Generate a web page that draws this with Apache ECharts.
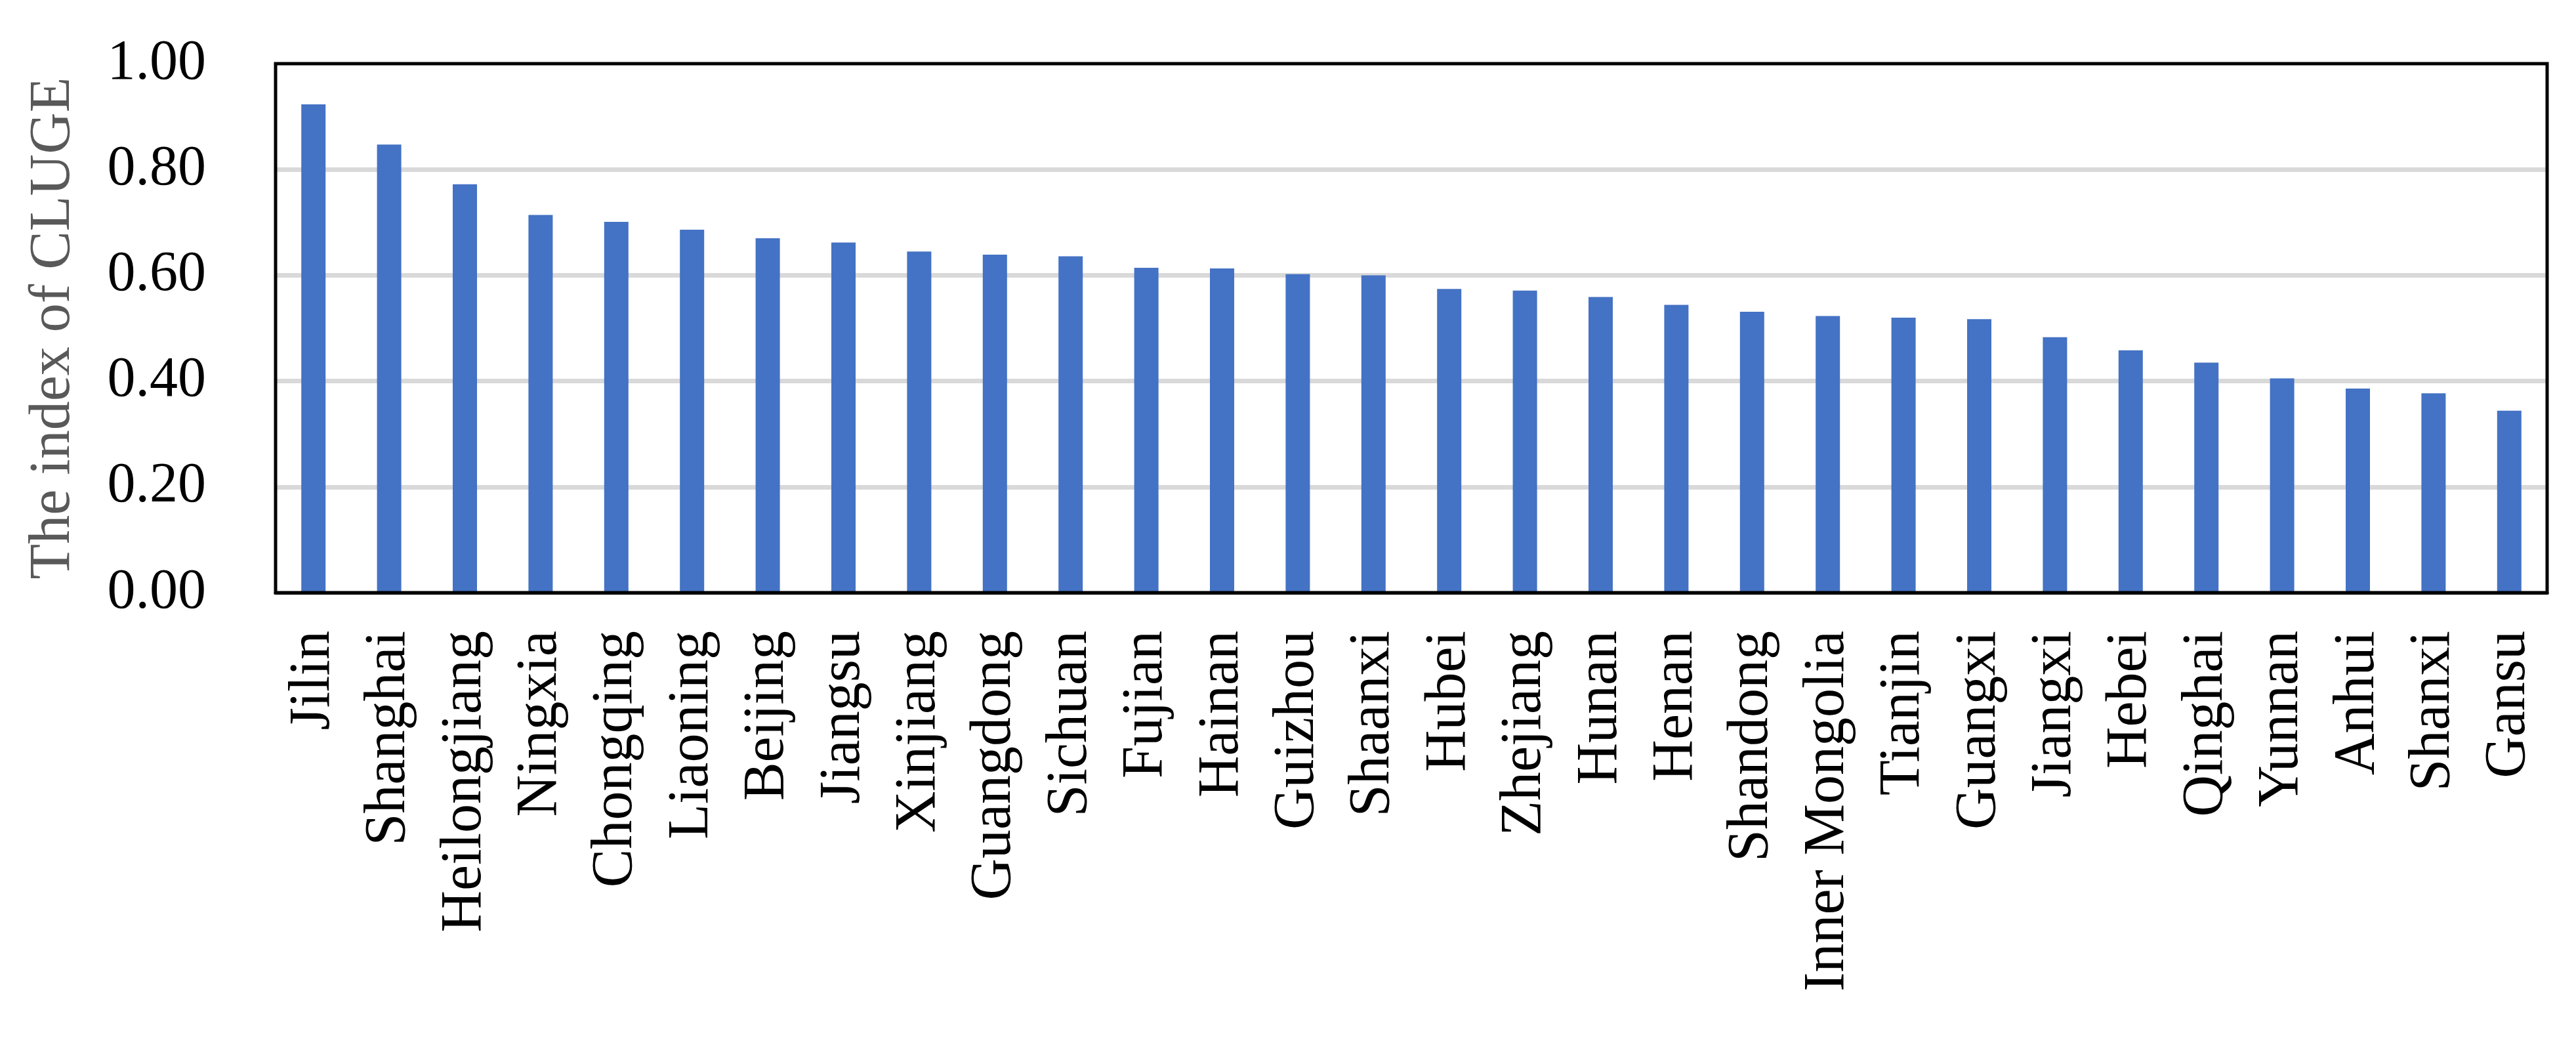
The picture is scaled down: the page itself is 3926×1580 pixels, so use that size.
<!DOCTYPE html>
<html>
<head>
<meta charset="utf-8">
<script src="https://cdn.jsdelivr.net/npm/echarts@6/dist/echarts.min.js"></script>
<style>html,body{margin:0;padding:0;background:#fff;}#c{width:3926px;height:1580px;}</style>
</head>
<body>
<div id="c"></div>
<script>
const provinces = ["Jilin","Shanghai","Heilongjiang","Ningxia","Chongqing","Liaoning","Beijing","Jiangsu","Xinjiang","Guangdong","Sichuan","Fujian","Hainan","Guizhou","Shaanxi","Hubei","Zhejiang","Hunan","Henan","Shandong","Inner Mongolia","Tianjin","Guangxi","Jiangxi","Hebei","Qinghai","Yunnan","Anhui","Shanxi","Gansu"];
const clugeIndex = [0.923,0.847,0.772,0.714,0.701,0.686,0.670,0.662,0.645,0.639,0.636,0.614,0.613,0.602,0.600,0.574,0.571,0.559,0.544,0.531,0.523,0.520,0.517,0.483,0.458,0.435,0.405,0.386,0.377,0.344];
const yTicks = {min: 0, max: 1, interval: 0.2};
const yAxisTitle = "The index of CLUGE";

const FONT = '"Palatino Linotype","Book Antiqua",Palatino,"Liberation Serif",serif';
const chart = echarts.init(document.getElementById('c'), null, {renderer: 'canvas'});
chart.setOption({
  animation: false,
  backgroundColor: '#fff',
  grid: {left: 420, right: 44, top: 97, bottom: 677, show: true, borderColor: '#000', borderWidth: 5, containLabel: false, z: 10},
  xAxis: {
    type: 'category',
    data: provinces,
    axisLine: {show: true, lineStyle: {color: '#000', width: 5}},
    axisTick: {show: false},
    axisLabel: {rotate: 90, margin: 58, fontSize: 88, color: '#000', fontFamily: FONT, interval: 0}
  },
  yAxis: {
    type: 'value',
    min: yTicks.min, max: yTicks.max, interval: yTicks.interval,
    name: yAxisTitle,
    nameLocation: 'middle',
    nameRotate: 90,
    nameGap: 294,
    nameTextStyle: {fontSize: 88, color: '#595959', fontFamily: FONT},
    axisLine: {show: false},
    axisTick: {show: false},
    splitLine: {show: true, showMinLine: false, showMaxLine: false, lineStyle: {color: '#d9d9d9', width: 7}},
    axisLabel: {margin: 106, fontSize: 86, color: '#000', fontFamily: FONT, formatter: v => v.toFixed(2)}
  },
  series: [{
    type: 'bar',
    data: clugeIndex,
    barWidth: 37,
    itemStyle: {color: '#4472C4'}
  }],
  graphic: []
});
</script>
</body>
</html>
